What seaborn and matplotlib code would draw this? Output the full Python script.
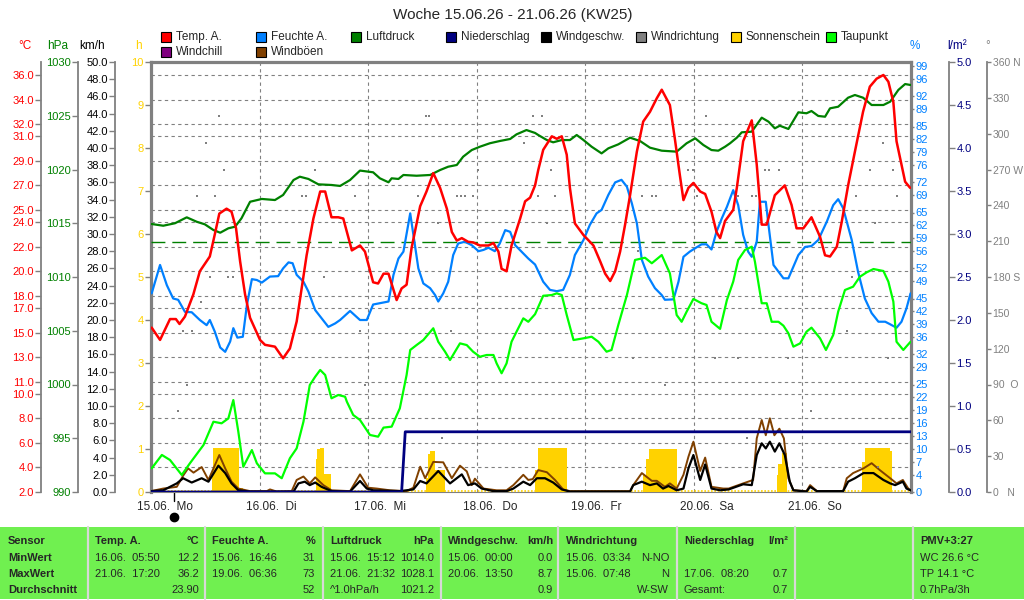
import matplotlib
matplotlib.use("Agg")
import matplotlib.pyplot as plt
from matplotlib.patches import Rectangle
from matplotlib.lines import Line2D
import seaborn as sns
import numpy as np

sns.set_style("white")
plt.rcParams['font.family'] = ['Liberation Sans', 'DejaVu Sans']

# ---- data (hours since 15.06. 00:00) ----
temp_h = [0.15, 2.0, 4.2, 5.5, 6.3, 7.5, 9.35, 10.8, 13.0, 14.1, 15.1, 16.7, 17.8, 18.8, 19.7, 20.8,
          21.9, 24.1, 25.2, 27.4, 29.2, 30.7, 32.2, 33.3, 34.4, 35.9, 37.4, 38.5, 39.9, 41.4, 42.5,
          44.4, 46.2, 47.3, 49.1, 50.2, 51.4, 52.5, 54.3, 55.4, 56.5, 57.6, 59.5, 60.9, 62.4, 63.9,
          65.4, 66.5, 67.6, 68.7, 70.1, 71.2, 72.7, 74.6, 75.7, 76.8, 77.5, 78.6, 79.7, 81.6, 82.7,
          83.8, 84.9, 85.6, 86.7, 88.6, 89.7, 90.8, 91.9, 92.6, 93.7, 95.6, 97.8, 99.3, 100.4, 101.5,
          102.6, 103.7, 104.8, 105.9, 107.4, 108.8, 110.3, 111.8, 112.9, 114.7, 115.8, 116.9, 117.7,
          118.8, 119.9, 121.4, 122.5, 123.9, 125.0, 125.8, 126.9, 128.7, 129.5, 130.9, 132.8, 133.9,
          135.0, 136.1, 137.9, 140.1, 141.6, 142.7, 144.2, 146.0, 147.9, 149.0, 150.1, 151.6, 152.7,
          154.1, 155.6, 157.4, 158.9, 160.4, 161.9, 163.0, 164.1, 164.8, 166.7, 167.8]
temp_c = [15.4, 14.4, 16.1, 16.1, 15.7, 16.3, 18.1, 20.0, 21.2, 23.0, 24.7, 25.1, 24.85, 23.5, 20.8, 18.1,
          16.2, 14.4, 14.0, 13.85, 12.9, 13.7, 15.9, 18.6, 21.3, 24.3, 26.5, 26.5, 24.4, 24.4, 24.3,
          21.7, 22.1, 21.6, 19.1, 19.0, 19.8, 19.8, 17.65, 18.6, 18.9, 21.9, 25.3, 26.5, 28.0, 26.8,
          25.1, 23.2, 22.5, 22.7, 22.4, 22.35, 22.1, 22.1, 22.3, 21.6, 20.2, 20.0, 22.1, 24.3, 25.7,
          26.0, 27.0, 28.25, 29.9, 31.0, 30.8, 31.0, 29.5, 26.8, 23.9, 22.95, 22.1, 20.8, 19.8, 19.2,
          20.0, 21.6, 23.8, 26.2, 29.75, 32.2, 33.0, 34.1, 34.8, 33.55, 30.8, 27.85, 25.8,
          26.8, 27.2, 26.5, 26.3, 24.85, 23.2, 22.7, 24.1, 25.0, 26.8, 30.6, 32.3, 28.7,
          23.8, 23.8, 26.2, 27.0, 25.4, 23.5, 23.5, 24.4, 22.8, 21.3, 21.2, 22.0, 24.05,
          27.0, 29.75, 33.0, 35.05, 35.7, 36.0, 35.45, 33.8, 30.6, 27.3, 26.8]

hum_h = [0.15, 2.0, 3.5, 4.9, 6.0, 7.5, 9.0, 10.8, 12.3, 13.0, 14.1, 15.3, 16.4, 17.5, 18.2, 19.1, 20.3,
         21.2, 22.3, 23.4, 24.5, 26.3, 28.1, 29.2, 30.4, 31.3, 32.2, 33.7, 34.8, 36.3, 37.7, 39.2, 40.7,
         41.8, 44.0, 46.2, 47.7, 49.1, 50.6, 52.5, 53.6, 54.7, 55.8, 57.3, 58.0, 59.1, 60.2, 61.7, 62.8,
         63.5, 64.6, 65.7, 66.8, 67.9, 69.4, 70.9, 72.4, 73.5, 74.6, 76.0, 77.1, 78.3, 79.4, 80.5, 81.9,
         83.4, 84.9, 86.7, 88.2, 89.7, 91.1, 92.6, 93.7, 95.6, 97.0, 98.5, 99.6, 101.1, 102.6, 104.0,
         105.2, 106.3, 107.4, 108.5, 109.9, 111.4, 112.9, 113.6, 115.5, 116.6, 117.7, 119.1, 120.3,
         121.7, 122.8, 123.9, 125.0, 126.2, 127.3, 128.7, 129.8, 130.9, 132.0, 132.8, 133.9, 134.6,
         135.9, 136.5, 137.6, 139.8, 140.9, 143.1, 144.6, 146.0, 147.5, 149.4, 150.8, 151.9, 153.0,
         154.9, 156.3, 157.8, 159.3, 160.8, 162.3, 163.4, 164.8, 165.9, 167.0, 167.9]
hum_pct = [46.2, 52.8, 48.1, 45.0, 44.7, 41.9, 41.8, 40.0, 38.8, 40.0, 37.3, 33.6, 32.6, 35.0, 38.1, 35.9, 36.1,
           43.5, 49.5, 49.3, 48.7, 50.1, 50.2, 52.0, 53.4, 53.2, 50.5, 48.9, 46.6, 42.3, 40.4, 38.4, 39.2,
           40.0, 42.1, 40.0, 40.0, 43.6, 43.9, 44.3, 50.5, 54.3, 55.9, 64.8, 59.8, 52.0, 48.5, 47.4, 45.8,
           44.3, 46.2, 48.9, 55.1, 57.8, 58.2, 57.4, 56.0, 56.3, 56.8, 56.0, 57.8, 60.9, 60.5, 57.4, 55.9,
           54.3, 52.9, 48.9, 47.0, 46.7, 47.0, 50.5, 55.1, 58.6, 62.1, 64.8, 65.6, 69.1, 72.0, 72.6,
           71.0, 67.1, 62.5, 54.0, 50.1, 47.4, 45.8, 44.7, 44.8, 48.9, 54.7, 55.9, 56.7,
           57.6, 57.6, 56.4, 60.5, 63.7, 66.3, 70.2, 66.7, 59.8, 55.9, 54.7, 58.2, 67.5,
           67.5, 62.1, 52.8, 49.7, 49.7, 55.1, 57.0, 57.2, 58.6, 62.9, 66.7, 68.1, 66.0,
           58.6, 51.2, 45.0, 41.6, 39.6, 39.6, 39.0, 38.2, 39.6, 42.7, 46.2]

pres_h = [0.15, 2.7, 5.3, 7.9, 10.1, 11.9, 13.8, 15.3, 17.1, 18.6, 20.0, 21.9, 24.5, 27.4, 29.2, 31.5, 32.9,
          34.8, 37.0, 39.9, 41.8, 44.0, 46.2, 49.1, 50.6, 52.5, 53.2, 54.7, 55.8, 58.7, 61.7, 63.9, 65.7,
          67.6, 69.0, 70.9, 72.7, 74.9, 77.1, 79.4, 80.8, 83.0, 84.9, 85.6, 87.5, 88.9, 90.8, 92.6, 94.1,
          95.6, 97.4, 99.6, 101.1, 103.3, 105.9, 108.1, 110.3, 112.9, 116.2, 118.4, 120.3, 122.1, 123.9,
          125.4, 126.9, 128.0, 129.5, 130.6, 132.8, 135.0, 136.5, 137.9, 139.0, 140.9, 143.1, 144.9,
          146.0, 147.5, 149.0, 150.1, 151.9, 154.1, 155.6, 157.4, 159.3, 161.9, 163.4, 165.2, 166.7, 167.9]
pres_hpa = [1014.93, 1014.77, 1015.0, 1015.55, 1015.14, 1014.9, 1014.37, 1014.12, 1014.53, 1014.68, 1015.46,
            1017.0, 1017.26, 1017.16, 1017.63, 1019.02, 1019.33, 1019.12, 1018.62, 1018.56, 1018.47, 1019.02,
            1019.9, 1019.74, 1019.18, 1018.81, 1019.18, 1019.12, 1019.49, 1019.42, 1019.49, 1019.95, 1020.26,
            1020.42, 1021.19, 1021.81, 1022.12, 1022.44, 1022.65, 1022.84, 1023.27, 1023.67, 1023.4, 1023.21,
            1022.74, 1022.53, 1022.74, 1022.74, 1023.21, 1022.74, 1022.12, 1021.5, 1021.97, 1022.34, 1022.96,
            1022.65, 1022.03, 1021.75, 1021.66, 1022.44, 1022.9, 1022.28, 1021.81, 1021.75, 1022.12, 1022.44,
            1022.96, 1023.46, 1023.52, 1024.82, 1024.45, 1023.83, 1024.07, 1023.77, 1025.32, 1025.23, 1025.44,
            1024.98, 1024.91, 1025.69, 1025.84, 1026.68, 1026.93, 1026.68, 1026.0, 1026.0, 1026.31, 1027.4,
            1027.95, 1027.86]

dew_h = [0.15, 2.4, 4.2, 6.8, 8.6, 11.6, 13.8, 15.6, 17.1, 18.2, 19.3, 20.4, 22.3, 23.4, 25.2, 27.4, 28.9,
         30.7, 32.2, 33.7, 35.1, 36.3, 37.4, 38.5, 39.9, 41.4, 42.9, 43.3, 44.7, 46.2, 48.4, 50.2, 51.4,
         53.2, 55.0, 56.5, 57.3, 58.7, 60.2, 62.4, 63.5, 65.0, 66.1, 67.2, 68.3, 69.8, 71.2, 72.7, 74.2,
         75.7, 76.4, 77.5, 78.6, 79.7, 80.8, 82.3, 83.4, 84.9, 86.7, 88.6, 89.7, 90.8, 91.9, 93.4, 95.6,
         97.4, 98.9, 100.7, 101.8, 103.3, 105.2, 107.0, 109.2, 110.7, 112.9, 114.7, 116.2, 117.3, 118.4,
         119.9, 121.7, 122.8, 123.9, 125.8, 127.3, 128.7, 129.8, 131.3, 132.8, 133.5, 135.0, 136.1, 137.2,
         138.7, 139.8, 140.9, 142.0, 143.5, 144.9, 146.0, 147.9, 149.2, 150.8, 151.9, 153.4, 155.2, 156.7,
         158.2, 159.7, 161.9, 163.0, 164.1, 164.8, 166.3, 167.9]
dew_c = [3.93, 5.02, 4.61, 3.39, 4.34, 5.83, 7.73, 7.6, 8.0, 9.5, 6.92, 4.06, 5.42, 4.34, 3.52, 3.52, 3.12,
         4.75, 5.56, 7.73, 10.72, 11.4, 11.95, 11.54, 9.64, 9.91, 9.77, 9.36, 8.28, 7.87, 6.65, 6.51, 7.25,
         7.33, 8.82, 11.54, 13.58, 13.98, 14.39, 15.35, 14.25, 13.44, 12.76, 13.44, 14.12, 13.98, 13.44,
         13.03, 13.17, 13.17, 12.49, 11.68, 12.49, 14.25, 15.07, 16.16, 15.88, 16.5, 18.0, 18.06, 18.2,
         18.06, 16.43, 14.39, 14.53, 14.66, 14.25, 13.44, 13.58, 15.62, 18.06, 20.92, 21.1, 20.65, 21.32,
         19.83, 16.43, 15.88, 16.7, 17.74, 17.39, 17.25, 15.88, 15.3, 17.65, 19.15, 20.92, 21.73, 22.0,
         20.78, 17.39, 17.39, 15.88, 15.88, 15.56, 14.94, 13.85, 14.12, 15.07, 15.4, 14.53, 13.58, 14.8,
         16.7, 18.47, 18.74, 19.55, 19.91, 20.18, 20.02, 19.15, 17.52, 14.25, 13.58, 14.25]

wind_h = [0.0, 2.7, 4.2, 5.7, 7.1, 9.0, 11.2, 12.7, 14.9, 16.4, 17.8, 19.3, 21.9, 31.5, 32.6, 34.0, 35.1,
          36.3, 37.7, 39.9, 44.0, 46.2, 47.7, 49.1, 55.0, 58.0, 59.5, 60.9, 63.5, 66.1, 68.7, 70.1, 71.6,
          73.1, 75.7, 78.6, 80.1, 82.3, 83.8, 85.3, 87.1, 88.9, 90.8, 92.6, 105.9, 106.6, 108.5, 110.3,
          111.8, 113.2, 114.4, 116.2, 117.7, 118.8, 119.9, 121.4, 122.5, 123.9, 125.8, 127.7, 130.9,
          132.8, 133.9, 135.0, 135.9, 136.8, 137.9, 138.9, 140.1, 141.2, 142.0, 144.9, 145.7, 147.2,
          153.0, 154.1, 155.6, 157.5, 159.7, 161.9, 163.4, 164.5, 166.2, 167.0, 167.9]
wind_kmh = [0.1, 0.2, 0.6, 1.0, 1.6, 1.1, 1.6, 1.2, 3.06, 2.2, 1.0, 0.2, 0.05, 0.05, 1.0, 1.2, 0.8,
            1.1, 0.6, 0.1, 0.05, 1.28, 0.4, 0.2, 0.1, 0.3, 1.28, 1.0, 2.44, 1.0, 2.05, 0.8, 1.0,
            0.4, 0.1, 0.1, 0.4, 1.2, 0.8, 1.6, 1.6, 1.1, 0.3, 0.05, 0.05, 0.8, 1.2, 0.8,
            1.0, 0.4, 0.7, 0.2, 0.4, 2.75, 4.3, 1.4, 3.2, 0.4, 0.2, 0.3, 0.9,
            0.8, 4.3, 5.66, 5.07, 5.85, 4.7, 5.66, 4.3, 1.2, 0.2, 0.05, 0.6, 0.1,
            0.1, 1.2, 1.6, 2.2, 2.2, 1.4, 1.0, 0.8, 1.2, 0.4, 0.2]

gust_h = [0.0, 2.7, 5.7, 7.1, 8.2, 9.4, 11.2, 12.7, 15.1, 16.4, 17.8, 19.3, 21.9, 25.6, 26.3, 27.8, 31.1,
          32.2, 33.7, 35.1, 36.3, 38.1, 39.9, 44.0, 46.2, 48.0, 49.9, 52.8, 56.5, 58.0, 59.5, 60.6, 62.4,
          64.6, 66.5, 68.3, 69.8, 70.9, 71.6, 73.5, 76.4, 78.6, 80.1, 82.3, 83.4, 84.4, 85.6, 87.5, 89.3,
          91.1, 92.6, 105.9, 106.6, 108.5, 110.7, 111.8, 113.6, 114.7, 116.2, 117.7, 118.8, 119.9, 121.4,
          122.5, 123.9, 126.5, 127.7, 130.9, 133.1, 133.9, 135.0, 135.9, 136.8, 137.8, 138.9, 139.9,
          140.9, 142.0, 144.9, 145.7, 147.2, 153.0, 153.8, 155.2, 157.5, 159.3, 161.1, 163.4, 164.8,
          166.2, 167.4, 167.9]
gust_kmh = [0.1, 0.4, 0.6, 1.9, 2.75, 2.25, 2.9, 1.4, 4.3, 2.75, 1.2, 0.4, 0.1, 0.1, 0.3, 0.05, 0.1,
            1.4, 1.8, 1.0, 1.7, 0.8, 0.2, 0.1, 2.05, 0.5, 0.4, 0.2, 0.1, 0.5, 2.94, 1.6, 3.5,
            3.45, 1.6, 3.06, 2.4, 0.8, 1.55, 0.4, 0.2, 0.2, 0.8, 2.0, 1.4, 1.5, 2.55, 2.3, 1.4,
            0.3, 0.1, 0.1, 0.8, 2.2, 1.3, 1.3, 0.6, 1.0, 0.4, 2.0, 4.1, 5.85, 2.45,
            4.0, 0.6, 0.4, 0.4, 1.0, 1.4, 6.24, 8.37, 6.6, 8.57, 6.6, 7.36, 6.24,
            1.6, 0.2, 0.1, 0.8, 0.1, 0.1, 1.6, 2.2, 2.75, 3.35, 2.55, 1.6, 1.0,
            1.4, 0.4, 0.2]

sun_h = [0, 13.4, 13.8, 19.5, 20.4, 36.4, 36.8, 37.3, 38.3, 39.7, 60.8, 61.2, 61.7, 62.7, 65.0, 84.9, 85.5,
         92.0, 108.8, 109.5, 110.0, 116.2, 138.3, 138.7, 139.4, 140.5, 157.1, 157.8, 163.3, 163.7, 168]
sun_val = [0, 0.5, 1.03, 0.1, 0, 0.77, 1.0, 1.03, 0.43, 0, 0.33, 0.89, 0.96, 0.5, 0, 0.5, 1.03,
           0, 0.4, 0.77, 1.0, 0, 0.4, 0.66, 0.9, 0, 0.7, 1.03, 0.95, 0, 0]

rain_h = [0, 55.4, 56.2, 168]
rain_lm2 = [0, 0, 0.7, 0.7]

dir_h = [15.0, 12.2, 16.1, 10.1, 14.1, 36.3, 33.3, 34.3, 13.0, 17.1, 18.1, 38.2, 11.1, 7.1, 9.0, 7.9, 5.9,
         60.8, 61.5, 84.5, 45.2, 59.1, 67.6, 68.5, 69.4, 71.2, 63.5, 82.5, 46.2, 66.3, 47.3, 64.3, 72.3,
         86.4, 122.7, 88.4, 118.8, 119.9, 85.6, 89.3, 108.5, 110.7, 111.6, 120.6, 87.5, 107.7, 106.5,
         124.7, 113.6, 161.9, 135.7, 136.7, 138.9, 158.9, 164.1, 133.7, 132.8, 129.8, 155.9, 164.8,
         160.1, 154.9, 153.8, 129.8, 140.9, 163.0, 145.8, 131.7, 160.8]
dir_deg = [315, 292, 270, 248, 248, 270, 248, 248, 180, 180, 180, 180, 159, 135, 135, 90, 68,
           315, 315, 315, 248, 248, 248, 248, 248, 248, 225, 292, 135, 135, 90, 45, 270,
           315, 315, 270, 270, 270, 248, 248, 248, 248, 248, 248, 225, 202, 112,
           112, 90, 292, 270, 270, 270, 270, 270, 248, 248, 248, 248, 248,
           225, 180, 135, 112, 112, 112, 68, 45, 21]

days = ["15.06.  Mo", "16.06.  Di", "17.06.  Mi", "18.06.  Do", "19.06.  Fr", "20.06.  Sa", "21.06.  So"]

temp_ticks = [2, 4, 6, 8, 10, 11, 13, 15, 17, 18, 20, 22, 24, 25, 27, 29, 31, 32, 34, 36]
pct_ticks = [0, 4, 7, 10, 13, 16, 19, 22, 25, 29, 32, 36, 39, 42, 45, 49, 52, 56, 59, 62, 65, 69,
             72, 76, 79, 82, 85, 89, 92, 96, 99]
deg_labels = ["0   N", "30", "60", "90  O", "120", "150", "180 S", "210", "240", "270 W", "300", "330", "360 N"]

# ---- colours ----
RED, BLUE, DGREEN, NAVY = '#FF0000', '#0080FF', '#008000', '#000080'
BROWN, GOLD, LIME, GRAY, PURPLE = '#804000', '#FFD200', '#00FF00', '#808080', '#800080'

W, H = 1024, 600
fig = plt.figure(figsize=(10.24, 6.0), dpi=100)


def fx(px):
    return px / W


def fy(py):
    return 1 - py / H


ax = fig.add_axes([fx(151), fy(492), fx(911) - fx(151), fy(62) - fy(492)])
ax.set_xlim(0, 168)
ax.set_ylim(2.0, 37.06)
ax.set_yticks(temp_ticks)
ax.set_xticks([24, 48, 72, 96, 120, 144])
ax.grid(True, ls=(0, (3, 3)), color=GRAY, lw=0.8)
ax.tick_params(labelleft=False, labelbottom=False, length=0)
for side in ['left', 'top', 'right']:
    ax.spines[side].set_color(GRAY)
    ax.spines[side].set_linewidth(2.3)
ax.spines['bottom'].set_color(GRAY)
ax.spines['bottom'].set_linewidth(0.8)

FS = 8.0


def add_axis(side, offset, lim, ticks, labels, color, spine=True, tlen=4, fs=FS):
    t = ax.twinx()
    t.set_ylim(*lim)
    for s in t.spines.values():
        s.set_visible(False)
    if side == 'left':
        t.yaxis.tick_left()
    else:
        t.yaxis.tick_right()
    if spine:
        sp = t.spines[side]
        sp.set_visible(True)
        sp.set_position(('axes', offset))
        sp.set_color(GRAY)
        sp.set_linewidth(1.3)
    t.set_yticks(ticks)
    t.set_yticklabels(labels)
    t.tick_params(axis='y', labelcolor=color, color=GRAY, length=tlen, width=1.0,
                  labelsize=fs, pad=1.2)
    return t


ax_h = add_axis('left', 0, (0, 10), range(0, 11), [str(i) for i in range(11)], GOLD, spine=False, tlen=4)
ax_kmh = add_axis('left', -0.0474, (0, 50), np.arange(0, 50.1, 2),
                  ['%.1f' % v for v in np.arange(0, 50.1, 2)], 'black')
ax_l = add_axis('right', 1.0504, (0, 5), np.arange(0, 5.01, 0.5),
                ['%.1f' % v for v in np.arange(0, 5.01, 0.5)], NAVY)
ax_deg = add_axis('right', 1.0996, (0, 360), range(0, 361, 30), deg_labels, GRAY, tlen=3, fs=7.5)
ax_hpa = add_axis('left', -0.0964, (990, 1030), range(990, 1031, 5),
                  [str(v) for v in range(990, 1031, 5)], DGREEN)
ax_pct = add_axis('right', 1.0, (0, 100), pct_ticks, [str(v) for v in pct_ticks], BLUE, spine=False, tlen=2)
ax_c = add_axis('left', -0.1447, (2.0, 37.06), temp_ticks, ['%.1f' % v for v in temp_ticks], RED)

# sunshine
ax_h.fill_between(sun_h, sun_val, step='post', color=GOLD, lw=0)
ax_h.axhline(0.03, color=GOLD, lw=1.2, ls=(0, (1, 1)))

# wind
sns.lineplot(x=gust_h, y=gust_kmh, ax=ax_kmh, color=BROWN, lw=1.4)
sns.lineplot(x=wind_h, y=wind_kmh, ax=ax_kmh, color='black', lw=1.6)

# precipitation (cumulative)
sns.lineplot(x=rain_h, y=rain_lm2, ax=ax_l, color=NAVY, lw=2.0)

# wind direction
sns.scatterplot(x=dir_h, y=dir_deg, ax=ax_deg, color=GRAY, s=4, marker='s', linewidth=0)

# pressure
sns.lineplot(x=pres_h, y=pres_hpa, ax=ax_hpa, color=DGREEN, lw=1.6)
ax_hpa.axhline(1013.25, color=DGREEN, lw=1.0, ls=(0, (10, 5)))

# humidity
sns.lineplot(x=hum_h, y=hum_pct, ax=ax_pct, color=BLUE, lw=1.6)

# dew point, temperature
sns.lineplot(x=dew_h, y=dew_c, ax=ax_c, color=LIME, lw=1.6)
sns.lineplot(x=temp_h, y=temp_c, ax=ax_c, color=RED, lw=1.8)

for t in [ax_h, ax_kmh, ax_l, ax_deg, ax_hpa, ax_pct, ax_c]:
    t.set_xlim(0, 168)
    t.set_xlabel('')
    t.set_ylabel('')

ax_h.set_ylim(0, 10)
ax_kmh.set_ylim(0, 50)
ax_l.set_ylim(0, 5)
ax_deg.set_ylim(0, 360)
ax_hpa.set_ylim(990, 1030)
ax_pct.set_ylim(0, 100)
ax_c.set_ylim(2.0, 37.06)

# day labels
trans = ax.get_xaxis_transform()
for i, d in enumerate(days):
    ax.text(i * 24 - 3.1, -0.035, d, transform=trans, ha='left', va='center', fontsize=8.5)
ax.plot([5.1, 5.1], [0, -0.022], color='black', lw=1, transform=trans, clip_on=False)
ax.plot([5.1], [-0.058], 'o', color='black', ms=6, transform=trans, clip_on=False)

# unit headers
units = [(25, '°C', RED), (58, 'hPa', DGREEN), (92, 'km/h', 'black'), (138, 'h', GOLD),
         (915, '%', BLUE), (957, 'l/m²', NAVY), (988, '°', GRAY)]
for x, s, c in units:
    fig.text(fx(x), fy(46), s, color=c, ha='center', va='center', fontsize=8.5)

fig.text(fx(513), fy(15), 'Woche 15.06.26 - 21.06.26 (KW25)', ha='center', va='center', fontsize=11)

# legend
legend_items = [('Temp. A.', RED), ('Feuchte A.', BLUE), ('Luftdruck', DGREEN), ('Niederschlag', NAVY),
                ('Windgeschw.', 'black'), ('Windrichtung', GRAY), ('Sonnenschein', GOLD), ('Taupunkt', LIME),
                ('Windchill', PURPLE), ('Windböen', BROWN)]
for i, (name, c) in enumerate(legend_items):
    col, row = i % 8, i // 8
    x0 = 161 + col * 95
    yc = 37 + row * 15
    fig.patches.append(Rectangle((fx(x0), fy(yc + 5)), fx(10), 10 / H, facecolor=c,
                                 edgecolor='black', lw=0.8, transform=fig.transFigure))
    fig.text(fx(x0 + 15), fy(yc), name, ha='left', va='center', fontsize=8.5)

# summary table
fig.patches.append(Rectangle((0, fy(599)), 1, (599 - 527) / H, facecolor='#70F050',
                             edgecolor='none', transform=fig.transFigure))
for x in [88, 205, 323, 441, 558, 677, 795, 913]:
    fig.add_artist(Line2D([fx(x), fx(x)], [fy(599), fy(527)], color='#D8D8D8', lw=1.6,
                          transform=fig.transFigure))

rows_y = [541, 558, 574, 590]


def cell(x, row, s, ha='left', bold=False):
    fig.text(fx(x), fy(rows_y[row]), s, ha=ha, va='center', fontsize=8,
             fontweight='bold' if bold else 'normal')


for r, s in enumerate(['Sensor', 'MinWert', 'MaxWert', 'Durchschnitt']):
    cell(8, r, s, bold=True)

cell(95, 0, 'Temp. A.', bold=True)
cell(199, 0, '°C', ha='right', bold=True)
cell(95, 1, '16.06.  05:50'); cell(199, 1, '12.2', 'right')
cell(95, 2, '21.06.  17:20'); cell(199, 2, '36.2', 'right')
cell(199, 3, '23.90', 'right')

cell(212, 0, 'Feuchte A.', bold=True)
cell(315, 0, '%', ha='right', bold=True)
cell(212, 1, '15.06.  16:46'); cell(315, 1, '31', 'right')
cell(212, 2, '19.06.  06:36'); cell(315, 2, '73', 'right')
cell(315, 3, '52', 'right')

cell(330, 0, 'Luftdruck', bold=True)
cell(434, 0, 'hPa', ha='right', bold=True)
cell(330, 1, '15.06.  15:12'); cell(434, 1, '1014.0', 'right')
cell(330, 2, '21.06.  21:32'); cell(434, 2, '1028.1', 'right')
cell(330, 3, '^1.0hPa/h'); cell(434, 3, '1021.2', 'right')

cell(448, 0, 'Windgeschw.', bold=True)
cell(553, 0, 'km/h', ha='right', bold=True)
cell(448, 1, '15.06.  00:00'); cell(553, 1, '0.0', 'right')
cell(448, 2, '20.06.  13:50'); cell(553, 2, '8.7', 'right')
cell(553, 3, '0.9', 'right')

cell(566, 0, 'Windrichtung', bold=True)
cell(566, 1, '15.06.  03:34'); cell(669, 1, 'N-NO', 'right')
cell(566, 2, '15.06.  07:48'); cell(669, 2, 'N', 'right')
cell(669, 3, 'W-SW', 'right')

cell(684, 0, 'Niederschlag', bold=True)
cell(788, 0, 'l/m²', ha='right', bold=True)
cell(684, 2, '17.06.  08:20'); cell(788, 2, '0.7', 'right')
cell(684, 3, 'Gesamt:'); cell(788, 3, '0.7', 'right')

cell(920, 0, 'PMV+3:27', bold=True)
cell(920, 1, 'WC 26.6 °C')
cell(920, 2, 'TP 14.1 °C')
cell(920, 3, '0.7hPa/3h')

fig.savefig('out.png', dpi=100, facecolor='white')
